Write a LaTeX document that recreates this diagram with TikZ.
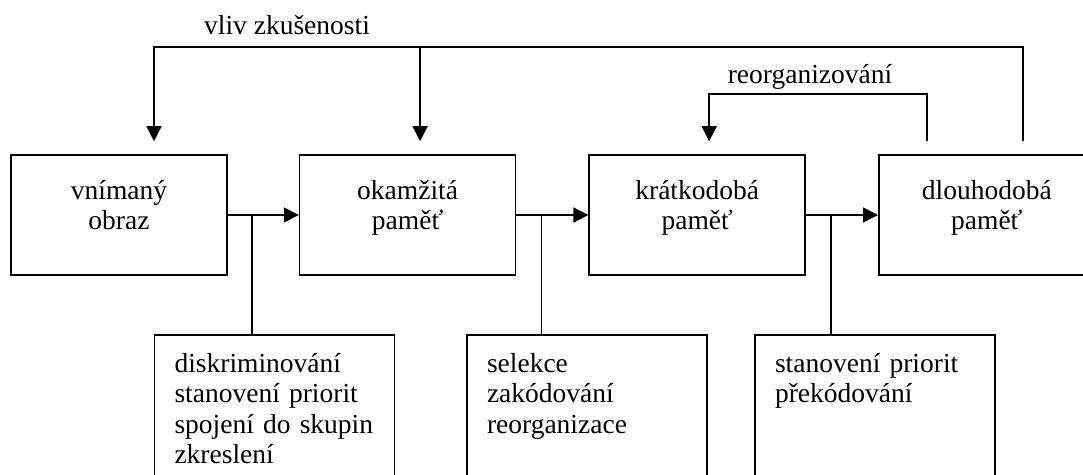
\documentclass[tikz,border=0pt]{standalone}
\usepackage{fontspec}
\setmainfont{Liberation Serif}
\usetikzlibrary{arrows.meta, positioning}

\tikzset{
  mem/.style={draw, line width=1.6pt, inner sep=0pt, text width=216pt, align=center,
    text height=44pt, text depth=76pt, font=\fontsize{27.5pt}{30.5pt}\selectfont},
  proc/.style={draw, line width=1.6pt, inner xsep=20pt, inner ysep=0pt, text width=200pt,
    align=left, text height=37pt, text depth=123pt, font=\fontsize{27.5pt}{30.5pt}\selectfont},
  arr/.style={line width=1.6pt, -{Triangle[length=15pt,width=15pt]}},
  wire/.style={line width=1.6pt},
  lbl/.style={anchor=base, inner sep=0pt, font=\fontsize{27.5pt}{30.5pt}\selectfont}
}

\begin{document}
\begin{tikzpicture}[x=1pt, y=-1pt]
  \useasboundingbox (0,0) rectangle (1083,474);
  \clip (0,0) rectangle (1083,474);

  % memory stages
  \node[mem] (vnim) at (119,215) {vnímaný\\obraz};
  \node[mem, right=71pt of vnim] (okam) {okamžitá\\paměť};
  \node[mem, right=72pt of okam] (krat) {krátkodobá\\paměť};
  \node[mem, right=72pt of krat] (dlouho) {dlouhodobá\\paměť};

  % processes
  \node[proc] (disk) at (274.5,415) {diskriminování\\stanovení priorit\\spojení do skupin\\zkreslení};
  \node[proc] (sel) at (587,415) {selekce\\zakódování\\reorganizace};
  \node[proc] (stan) at (875,415) {stanovení priorit\\překódování};

  \draw[arr] (vnim) -- (okam);
  \draw[arr] (okam) -- (krat);
  \draw[arr] (krat) -- (dlouho);

  \coordinate (j1) at ([xshift=24pt]vnim.east);
  \coordinate (j2) at ([xshift=25pt]okam.east);
  \coordinate (j3) at ([xshift=25pt]krat.east);
  \draw[wire] (j1) -- (j1 |- disk.north);
  \draw[wire] (j2) -- (j2 |- sel.north);
  \draw[wire] (j3) -- (j3 |- stan.north);

  % feedback
  \coordinate (v0) at ([xshift=36pt,yshift=13pt]dlouho.north);
  \coordinate (v1) at ([xshift=35pt,yshift=13pt]vnim.north);
  \coordinate (v2) at ([xshift=12.5pt,yshift=13pt]okam.north);
  \draw[arr] (v0) -- (v0 |- 0,47) -| (v1);
  \draw[arr] (v2 |- 0,47) -- (v2);
  \node[lbl] (vliv) at (287,34) {vliv zkušenosti};

  \coordinate (r0) at ([xshift=-60pt,yshift=13pt]dlouho.north);
  \coordinate (r1) at ([xshift=12pt,yshift=13pt]krat.north);
  \draw[arr] (r0) -- (r0 |- 0,94) -| (r1);
  \node[lbl] (reorg) at (810,83) {reorganizování};
\end{tikzpicture}
\end{document}
